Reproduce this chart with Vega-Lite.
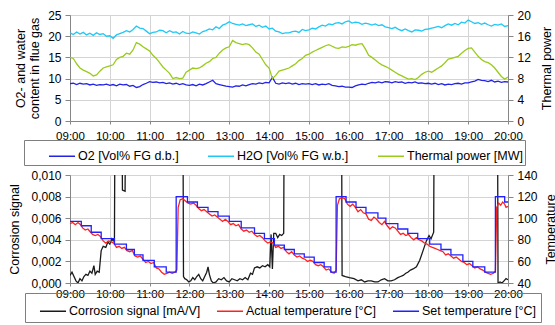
{
"$schema": "https://vega.github.io/schema/vega-lite/v6.json",
"padding": {"left": 8, "top": 8, "right": 0, "bottom": 0},
"spacing": 2,
"config": {
  "font": "Liberation Sans",
  "locale": {"number": {"decimal": ",", "thousands": ".", "grouping": [3], "currency": ["", " €"]}},
  "view": {"stroke": "#a6a6a6"},
  "axis": {"labelFontSize": 12, "labelColor": "#000", "titleFontSize": 12.5, "titleFontWeight": "normal", "titleColor": "#000", "domainColor": "#868686", "tickColor": "#868686", "gridColor": "#d4d4d4", "tickSize": 5, "labelPadding": 4, "labelOverlap": false},
  "axisX": {"labelFontSize": 11.5, "tickSize": 3, "labelPadding": 2, "labelOverlap": false, "labelFlush": false},
  "legend": {"labelFontSize": 12.5, "labelColor": "#000", "symbolType": "stroke", "symbolStrokeWidth": 1.5, "symbolSize": 680, "strokeColor": "#7f7f7f", "labelLimit": 400}
},
"datasets": {
"o2": [{"t":540,"v":8.8},{"t":545,"v":8.9},{"t":550,"v":8.6},{"t":555,"v":8.9},{"t":560,"v":8.7},{"t":565,"v":8.8},{"t":570,"v":8.5},{"t":575,"v":8.7},{"t":580,"v":8.4},{"t":585,"v":8.6},{"t":590,"v":8.5},{"t":595,"v":8.7},
{"t":600,"v":8.4},{"t":605,"v":8.6},{"t":610,"v":8.3},{"t":615,"v":8.7},{"t":620,"v":8.5},{"t":625,"v":8.6},{"t":630,"v":8.2},{"t":635,"v":8.4},{"t":640,"v":7.9},{"t":645,"v":8.1},{"t":650,"v":8.6},{"t":655,"v":8.9},
{"t":660,"v":9.3},{"t":665,"v":9.1},{"t":670,"v":9.2},{"t":675,"v":9.0},{"t":680,"v":9.1},{"t":685,"v":8.8},{"t":690,"v":9.0},{"t":695,"v":8.7},{"t":700,"v":8.9},{"t":705,"v":8.6},{"t":710,"v":8.8},{"t":715,"v":8.5},
{"t":720,"v":8.4},{"t":725,"v":8.6},{"t":730,"v":8.3},{"t":735,"v":8.7},{"t":740,"v":8.5},{"t":745,"v":8.8},{"t":750,"v":9.2},{"t":755,"v":9.6},{"t":760,"v":8.8},{"t":765,"v":8.6},{"t":770,"v":8.4},{"t":775,"v":8.2},
{"t":780,"v":8.1},{"t":785,"v":8.0},{"t":790,"v":8.3},{"t":795,"v":8.2},{"t":800,"v":8.5},{"t":805,"v":8.3},{"t":810,"v":8.6},{"t":815,"v":8.8},{"t":820,"v":8.7},{"t":825,"v":9.0},{"t":830,"v":8.8},{"t":835,"v":9.1},
{"t":840,"v":9.0},{"t":845,"v":10.3},{"t":850,"v":8.9},{"t":855,"v":8.7},{"t":860,"v":9.0},{"t":865,"v":8.8},{"t":870,"v":9.0},{"t":875,"v":8.7},{"t":880,"v":8.9},{"t":885,"v":8.6},{"t":890,"v":8.8},{"t":895,"v":8.7},
{"t":900,"v":8.8},{"t":905,"v":8.6},{"t":910,"v":8.8},{"t":915,"v":8.5},{"t":920,"v":8.7},{"t":925,"v":8.6},{"t":930,"v":8.8},{"t":935,"v":8.4},{"t":940,"v":8.3},{"t":945,"v":8.1},{"t":950,"v":8.2},{"t":955,"v":8.0},
{"t":960,"v":8.0},{"t":965,"v":7.9},{"t":970,"v":8.3},{"t":975,"v":8.5},{"t":980,"v":8.7},{"t":985,"v":8.6},{"t":990,"v":8.9},{"t":995,"v":9.1},{"t":1000,"v":9.0},{"t":1005,"v":9.2},{"t":1010,"v":9.0},{"t":1015,"v":9.3},
{"t":1020,"v":9.2},{"t":1025,"v":9.0},{"t":1030,"v":9.3},{"t":1035,"v":9.1},{"t":1040,"v":9.2},{"t":1045,"v":8.9},{"t":1050,"v":9.1},{"t":1055,"v":9.0},{"t":1060,"v":9.2},{"t":1065,"v":8.9},{"t":1070,"v":9.0},{"t":1075,"v":8.8},
{"t":1080,"v":8.9},{"t":1085,"v":8.7},{"t":1090,"v":8.9},{"t":1095,"v":8.6},{"t":1100,"v":8.8},{"t":1105,"v":8.5},{"t":1110,"v":8.7},{"t":1115,"v":8.6},{"t":1120,"v":8.8},{"t":1125,"v":8.9},{"t":1130,"v":8.7},{"t":1135,"v":9.0},
{"t":1140,"v":9.0},{"t":1145,"v":9.2},{"t":1150,"v":9.4},{"t":1155,"v":9.8},{"t":1160,"v":9.6},{"t":1165,"v":9.5},{"t":1170,"v":9.3},{"t":1175,"v":9.6},{"t":1180,"v":9.2},{"t":1185,"v":9.4},{"t":1190,"v":9.1},{"t":1195,"v":9.3},
{"t":1200,"v":9.2}],
"h2o": [{"t":540,"v":20.8},{"t":545,"v":20.4},{"t":550,"v":21.0},{"t":555,"v":20.5},{"t":560,"v":20.9},{"t":565,"v":20.3},{"t":570,"v":20.7},{"t":575,"v":20.2},{"t":580,"v":20.8},{"t":585,"v":20.4},{"t":590,"v":20.6},{"t":595,"v":20.0},
{"t":600,"v":20.1},{"t":605,"v":19.5},{"t":610,"v":20.3},{"t":615,"v":20.6},{"t":620,"v":20.9},{"t":625,"v":21.3},{"t":630,"v":21.0},{"t":635,"v":21.6},{"t":640,"v":22.4},{"t":645,"v":21.9},{"t":650,"v":21.8},{"t":655,"v":21.2},
{"t":660,"v":20.6},{"t":665,"v":20.9},{"t":670,"v":21.0},{"t":675,"v":21.4},{"t":680,"v":21.3},{"t":685,"v":20.8},{"t":690,"v":21.3},{"t":695,"v":20.9},{"t":700,"v":21.0},{"t":705,"v":20.5},{"t":710,"v":21.1},{"t":715,"v":20.7},
{"t":720,"v":20.6},{"t":725,"v":21.0},{"t":730,"v":20.8},{"t":735,"v":20.5},{"t":740,"v":21.1},{"t":745,"v":21.3},{"t":750,"v":21.7},{"t":755,"v":21.5},{"t":760,"v":22.2},{"t":765,"v":21.8},{"t":770,"v":22.6},{"t":775,"v":22.9},
{"t":780,"v":23.4},{"t":785,"v":23.0},{"t":790,"v":22.8},{"t":795,"v":22.6},{"t":800,"v":22.9},{"t":805,"v":22.5},{"t":810,"v":22.7},{"t":815,"v":22.9},{"t":820,"v":22.3},{"t":825,"v":22.6},{"t":830,"v":22.1},{"t":835,"v":22.4},
{"t":840,"v":21.7},{"t":845,"v":21.9},{"t":850,"v":21.2},{"t":855,"v":21.0},{"t":860,"v":20.6},{"t":865,"v":20.8},{"t":870,"v":20.8},{"t":875,"v":21.1},{"t":880,"v":21.2},{"t":885,"v":20.9},{"t":890,"v":21.6},{"t":895,"v":21.3},
{"t":900,"v":21.5},{"t":905,"v":21.9},{"t":910,"v":21.7},{"t":915,"v":22.2},{"t":920,"v":22.6},{"t":925,"v":22.4},{"t":930,"v":22.9},{"t":935,"v":22.7},{"t":940,"v":23.1},{"t":945,"v":23.2},{"t":950,"v":22.9},{"t":955,"v":23.4},
{"t":960,"v":23.6},{"t":965,"v":23.1},{"t":970,"v":23.3},{"t":975,"v":23.2},{"t":980,"v":22.8},{"t":985,"v":23.1},{"t":990,"v":22.9},{"t":995,"v":22.6},{"t":1000,"v":22.9},{"t":1005,"v":22.5},{"t":1010,"v":22.7},{"t":1015,"v":22.2},
{"t":1020,"v":22.0},{"t":1025,"v":21.8},{"t":1030,"v":22.1},{"t":1035,"v":21.6},{"t":1040,"v":21.3},{"t":1045,"v":21.7},{"t":1050,"v":21.3},{"t":1055,"v":21.0},{"t":1060,"v":21.5},{"t":1065,"v":21.4},{"t":1070,"v":21.2},{"t":1075,"v":21.6},
{"t":1080,"v":21.7},{"t":1085,"v":21.9},{"t":1090,"v":22.1},{"t":1095,"v":22.3},{"t":1100,"v":22.0},{"t":1105,"v":22.5},{"t":1110,"v":22.9},{"t":1115,"v":22.6},{"t":1120,"v":23.0},{"t":1125,"v":22.7},{"t":1130,"v":23.3},{"t":1135,"v":23.1},
{"t":1140,"v":23.8},{"t":1145,"v":23.4},{"t":1150,"v":23.0},{"t":1155,"v":23.2},{"t":1160,"v":22.8},{"t":1165,"v":23.1},{"t":1170,"v":22.7},{"t":1175,"v":22.4},{"t":1180,"v":22.8},{"t":1185,"v":22.6},{"t":1190,"v":22.9},{"t":1195,"v":22.3},
{"t":1200,"v":22.5}],
"tp": [{"t":540,"v":12.0},{"t":545,"v":11.8},{"t":550,"v":10.8},{"t":555,"v":10.0},{"t":560,"v":9.6},{"t":565,"v":9.3},{"t":570,"v":9.0},{"t":575,"v":8.5},{"t":580,"v":8.7},{"t":585,"v":9.4},{"t":590,"v":10.0},{"t":595,"v":10.2},
{"t":600,"v":10.4},{"t":605,"v":10.6},{"t":610,"v":11.6},{"t":615,"v":12.0},{"t":620,"v":12.2},{"t":625,"v":12.8},{"t":630,"v":12.6},{"t":635,"v":13.4},{"t":640,"v":14.8},{"t":645,"v":14.5},{"t":650,"v":14.0},{"t":655,"v":13.6},
{"t":660,"v":13.2},{"t":665,"v":12.4},{"t":670,"v":11.8},{"t":675,"v":11.0},{"t":680,"v":10.2},{"t":685,"v":9.6},{"t":690,"v":9.0},{"t":695,"v":8.0},{"t":700,"v":8.2},{"t":705,"v":8.0},{"t":710,"v":8.1},{"t":715,"v":9.2},
{"t":720,"v":9.6},{"t":725,"v":10.0},{"t":730,"v":9.9},{"t":735,"v":10.0},{"t":740,"v":10.4},{"t":745,"v":10.9},{"t":750,"v":11.2},{"t":755,"v":11.8},{"t":760,"v":12.0},{"t":765,"v":12.8},{"t":770,"v":13.4},{"t":775,"v":13.8},
{"t":780,"v":14.0},{"t":785,"v":15.2},{"t":790,"v":14.8},{"t":795,"v":14.6},{"t":800,"v":14.4},{"t":805,"v":14.6},{"t":810,"v":14.4},{"t":815,"v":13.8},{"t":820,"v":13.0},{"t":825,"v":12.6},{"t":830,"v":11.6},{"t":835,"v":10.6},
{"t":840,"v":10.0},{"t":845,"v":8.0},{"t":850,"v":8.6},{"t":855,"v":9.4},{"t":860,"v":9.6},{"t":865,"v":9.8},{"t":870,"v":10.0},{"t":875,"v":10.4},{"t":880,"v":10.8},{"t":885,"v":11.4},{"t":890,"v":11.8},{"t":895,"v":12.4},
{"t":900,"v":12.6},{"t":905,"v":13.0},{"t":910,"v":13.3},{"t":915,"v":13.6},{"t":920,"v":13.9},{"t":925,"v":14.2},{"t":930,"v":14.4},{"t":935,"v":14.1},{"t":940,"v":13.8},{"t":945,"v":13.7},{"t":950,"v":14.0},{"t":955,"v":13.9},
{"t":960,"v":14.1},{"t":965,"v":14.4},{"t":970,"v":14.3},{"t":975,"v":14.5},{"t":980,"v":14.6},{"t":985,"v":13.6},{"t":990,"v":12.4},{"t":995,"v":12.0},{"t":1000,"v":11.5},{"t":1005,"v":11.0},{"t":1010,"v":10.6},{"t":1015,"v":10.3},
{"t":1020,"v":10.0},{"t":1025,"v":9.6},{"t":1030,"v":9.2},{"t":1035,"v":8.8},{"t":1040,"v":8.5},{"t":1045,"v":8.2},{"t":1050,"v":7.9},{"t":1055,"v":8.0},{"t":1060,"v":7.8},{"t":1065,"v":8.2},{"t":1070,"v":8.8},{"t":1075,"v":9.2},
{"t":1080,"v":9.4},{"t":1085,"v":9.2},{"t":1090,"v":9.6},{"t":1095,"v":10.0},{"t":1100,"v":10.4},{"t":1105,"v":11.0},{"t":1110,"v":11.7},{"t":1115,"v":11.8},{"t":1120,"v":12.0},{"t":1125,"v":12.2},{"t":1130,"v":12.8},{"t":1135,"v":13.3},
{"t":1140,"v":13.7},{"t":1145,"v":13.8},{"t":1150,"v":13.0},{"t":1155,"v":12.2},{"t":1160,"v":11.6},{"t":1165,"v":11.2},{"t":1170,"v":11.0},{"t":1175,"v":10.6},{"t":1180,"v":10.0},{"t":1185,"v":9.2},{"t":1190,"v":8.4},{"t":1195,"v":7.9},
{"t":1200,"v":8.3}],
"cor": [{"t":540,"v":0.0007},{"t":543,"v":0.0010},{"t":546,"v":0.0006},{"t":549,"v":0.0002},{"t":552,"v":0.0000},{"t":555,"v":0.0004},{"t":558,"v":0.0002},{"t":561,"v":0.0006},{"t":564,"v":0.0008},{"t":567,"v":0.0007},{"t":570,"v":0.0011},{"t":573,"v":0.0009},{"t":576,"v":0.0016},{"t":578,"v":0.0008},{"t":581,"v":0.0011},{"t":584,"v":0.0010},{"t":587,"v":0.0030},{"t":590,"v":0.0034},{"t":594,"v":0.0033},{"t":597,"v":0.0038},{"t":600,"v":0.0036},{"t":603,"v":0.0041},{"t":605,"v":0.0039},{"t":607,"v":0.0042},{"t":608,"v":0.02},{"t":618,"v":0.02},{"t":619,"v":0.0086},{"t":623,"v":0.0085},{"t":624,"v":0.02},{"t":710,"v":0.02},{"t":711,"v":0.0006},{"t":713,"v":0.0004},{"t":716,"v":0.0003},{"t":719,"v":0.0001},{"t":722,"v":0.0002},{"t":725,"v":0.0005},{"t":728,"v":0.0003},{"t":731,"v":0.0006},{"t":734,"v":0.0008},{"t":737,"v":0.0004},{"t":740,"v":0.0002},{"t":743,"v":0.0006},{"t":746,"v":0.0010},{"t":748,"v":0.0015},{"t":750,"v":0.0008},{"t":753,"v":0.0002},{"t":756,"v":0.0000},{"t":760,"v":0.0001},{"t":764,"v":0.0004},{"t":768,"v":0.0003},{"t":772,"v":0.0005},{"t":776,"v":0.0002},{"t":780,"v":0.0001},{"t":784,"v":0.0004},{"t":788,"v":0.0003},{"t":792,"v":0.0002},{"t":796,"v":0.0004},{"t":800,"v":0.0003},{"t":804,"v":0.0005},{"t":808,"v":0.0003},{"t":812,"v":0.0009},{"t":815,"v":0.0008},{"t":818,"v":0.0014},{"t":822,"v":0.0015},{"t":826,"v":0.0014},{"t":830,"v":0.0016},{"t":834,"v":0.0015},{"t":838,"v":0.0017},{"t":841,"v":0.0015},{"t":843,"v":0.0045},{"t":845,"v":0.0013},{"t":847,"v":0.0046},{"t":850,"v":0.0046},{"t":853,"v":0.0042},{"t":856,"v":0.0045},{"t":859,"v":0.0044},{"t":862,"v":0.0046},{"t":863,"v":0.02},{"t":949,"v":0.02},{"t":950,"v":0.0007},{"t":955,"v":0.0006},{"t":961,"v":0.0005},{"t":968,"v":0.0004},{"t":974,"v":0.0002},{"t":979,"v":0.0003},{"t":984,"v":0.0001},{"t":989,"v":0.0002},{"t":994,"v":0.0002},{"t":999,"v":0.0001},{"t":1004,"v":0.0001},{"t":1009,"v":0.0003},{"t":1014,"v":0.0004},{"t":1019,"v":0.0002},{"t":1024,"v":0.0002},{"t":1029,"v":0.0003},{"t":1034,"v":0.0005},{"t":1038,"v":0.0006},{"t":1042,"v":0.0007},{"t":1046,"v":0.0009},{"t":1049,"v":0.0010},{"t":1053,"v":0.0012},{"t":1057,"v":0.0013},{"t":1062,"v":0.0015},{"t":1067,"v":0.0021},{"t":1072,"v":0.0030},{"t":1077,"v":0.0039},{"t":1081,"v":0.0044},{"t":1084,"v":0.0041},{"t":1088,"v":0.0047},{"t":1089,"v":0.02},{"t":1184,"v":0.02},{"t":1185,"v":0.0000},{"t":1188,"v":0.0001},{"t":1191,"v":0.0000},{"t":1194,"v":0.0002},{"t":1197,"v":0.0004},{"t":1200,"v":0.0003}],
"act": [{"t":540,"v":95},{"t":544,"v":96},{"t":548,"v":94},{"t":552,"v":96},{"t":556,"v":94},{"t":559,"v":91},{"t":563,"v":89},{"t":567,"v":90},{"t":571,"v":87},{"t":574,"v":85},{"t":578,"v":84},{"t":582,"v":85},{"t":586,"v":83},{"t":590,"v":79},{"t":594,"v":77},{"t":598,"v":79},{"t":602,"v":78},{"t":606,"v":77},{"t":610,"v":73},{"t":614,"v":74},{"t":618,"v":72},{"t":622,"v":73},{"t":626,"v":70},{"t":630,"v":69},{"t":634,"v":70},{"t":638,"v":65},{"t":642,"v":64},{"t":646,"v":65},{"t":650,"v":62},{"t":654,"v":59},{"t":658,"v":60},{"t":662,"v":58},{"t":666,"v":59},{"t":670,"v":54},{"t":674,"v":53},{"t":678,"v":50},{"t":682,"v":48},{"t":686,"v":49},{"t":690,"v":50},{"t":694,"v":49},{"t":698,"v":50},{"t":701,"v":52},{"t":703,"v":110},{"t":706,"v":117},{"t":710,"v":118},{"t":714,"v":116},{"t":718,"v":114},{"t":722,"v":113},{"t":726,"v":114},{"t":730,"v":112},{"t":734,"v":109},{"t":738,"v":107},{"t":742,"v":108},{"t":746,"v":106},{"t":750,"v":104},{"t":754,"v":102},{"t":758,"v":103},{"t":762,"v":101},{"t":766,"v":99},{"t":770,"v":97},{"t":774,"v":99},{"t":778,"v":97},{"t":782,"v":94},{"t":786,"v":95},{"t":790,"v":93},{"t":794,"v":94},{"t":798,"v":90},{"t":802,"v":88},{"t":806,"v":89},{"t":810,"v":87},{"t":814,"v":88},{"t":818,"v":85},{"t":822,"v":83},{"t":826,"v":84},{"t":830,"v":82},{"t":834,"v":79},{"t":838,"v":77},{"t":842,"v":78},{"t":846,"v":77},{"t":850,"v":73},{"t":854,"v":74},{"t":858,"v":72},{"t":862,"v":73},{"t":866,"v":69},{"t":870,"v":67},{"t":874,"v":69},{"t":878,"v":66},{"t":882,"v":64},{"t":886,"v":65},{"t":890,"v":63},{"t":894,"v":62},{"t":898,"v":60},{"t":902,"v":61},{"t":906,"v":60},{"t":910,"v":57},{"t":914,"v":56},{"t":918,"v":57},{"t":922,"v":55},{"t":926,"v":52},{"t":930,"v":53},{"t":934,"v":50},{"t":938,"v":49},{"t":941,"v":52},{"t":943,"v":112},{"t":946,"v":118},{"t":950,"v":119},{"t":954,"v":118},{"t":958,"v":113},{"t":962,"v":111},{"t":966,"v":113},{"t":970,"v":110},{"t":974,"v":106},{"t":978,"v":108},{"t":982,"v":105},{"t":986,"v":104},{"t":990,"v":99},{"t":994,"v":98},{"t":998,"v":101},{"t":1002,"v":99},{"t":1006,"v":96},{"t":1010,"v":94},{"t":1014,"v":97},{"t":1018,"v":93},{"t":1022,"v":90},{"t":1026,"v":92},{"t":1030,"v":91},{"t":1034,"v":88},{"t":1038,"v":85},{"t":1042,"v":86},{"t":1046,"v":84},{"t":1050,"v":85},{"t":1054,"v":82},{"t":1058,"v":80},{"t":1062,"v":82},{"t":1066,"v":80},{"t":1070,"v":79},{"t":1074,"v":77},{"t":1078,"v":76},{"t":1082,"v":74},{"t":1086,"v":73},{"t":1090,"v":72},{"t":1094,"v":71},{"t":1098,"v":70},{"t":1102,"v":69},{"t":1106,"v":66},{"t":1110,"v":67},{"t":1114,"v":65},{"t":1118,"v":63},{"t":1122,"v":64},{"t":1126,"v":62},{"t":1130,"v":60},{"t":1134,"v":59},{"t":1138,"v":57},{"t":1142,"v":58},{"t":1146,"v":56},{"t":1150,"v":54},{"t":1154,"v":55},{"t":1158,"v":53},{"t":1162,"v":52},{"t":1166,"v":50},{"t":1170,"v":49},{"t":1174,"v":48},{"t":1178,"v":49},{"t":1181,"v":51},{"t":1183,"v":110},{"t":1186,"v":114},{"t":1189,"v":112},{"t":1192,"v":115},{"t":1195,"v":113},{"t":1197,"v":110},{"t":1200,"v":111}],
"set": [{"t":540,"v":97},{"t":557,"v":93},{"t":572,"v":87},{"t":587,"v":81},{"t":607,"v":76},{"t":625,"v":71},{"t":637,"v":66},{"t":650,"v":61},{"t":667,"v":55},{"t":685,"v":50},{"t":700,"v":120},{"t":717,"v":115},{"t":732,"v":110},{"t":748,"v":106},{"t":763,"v":102},{"t":780,"v":97},{"t":798,"v":91},{"t":818,"v":86},{"t":833,"v":81},{"t":848,"v":75},{"t":863,"v":71},{"t":878,"v":67},{"t":893,"v":64},{"t":908,"v":59},{"t":923,"v":55},{"t":933,"v":50},{"t":941,"v":120},{"t":956,"v":115},{"t":971,"v":110},{"t":986,"v":105},{"t":1004,"v":100},{"t":1016,"v":95},{"t":1034,"v":90},{"t":1049,"v":86},{"t":1064,"v":81},{"t":1082,"v":76},{"t":1099,"v":71},{"t":1114,"v":66},{"t":1132,"v":60},{"t":1147,"v":55},{"t":1165,"v":50},{"t":1181,"v":120},{"t":1195,"v":115},{"t":1200,"v":115}]
},
"vconcat": [
{
  "width": 438, "height": 106,
  "layer": [
    {"layer": [
      {"data": {"name": "o2"}, "mark": {"type": "line", "strokeWidth": 1.3},
       "encoding": {
         "x": {"field": "t", "type": "quantitative", "scale": {"domain": [540, 1200], "nice": false, "zero": false}, "axis": {"values": [540,600,660,720,780,840,900,960,1020,1080,1140,1200], "labelExpr": "(datum.value < 600 ? '0' : '') + floor(datum.value / 60) + ':00'", "title": null, "grid": true, "labelPadding": 6}},
         "y": {"field": "v", "type": "quantitative", "scale": {"domain": [0, 25], "nice": false}, "axis": {"values": [0,5,10,15,20,25], "title": ["O2- and water", "content in flue gas"], "grid": true, "titlePadding": 6}},
         "color": {"datum": "O2 [Vol% FG d.b.]", "type": "nominal", "scale": {"domain": ["O2 [Vol% FG d.b.]", "H2O [Vol% FG w.b.]", "Thermal power [MW]"], "range": ["#2323e6", "#1fc8f7", "#9acb1c"]},
           "legend": {"title": null, "orient": "none", "legendX": -46, "legendY": 125, "direction": "horizontal", "columns": 3, "columnPadding": 6, "padding": 2, "symbolOffset": 22, "labelOffset": 2, "labelExpr": "datum.value == 'Thermal power [MW]' ? datum.label + '\u00a0\u00a0\u00a0\u00a0\u00a0' : datum.label"}}
       }},
      {"data": {"name": "h2o"}, "mark": {"type": "line", "strokeWidth": 1.3},
       "encoding": {
         "x": {"field": "t", "type": "quantitative", "scale": {"domain": [540, 1200], "nice": false, "zero": false}, "axis": {"values": [540,600,660,720,780,840,900,960,1020,1080,1140,1200], "labelExpr": "(datum.value < 600 ? '0' : '') + floor(datum.value / 60) + ':00'", "title": null, "grid": true, "labelPadding": 6}},
         "y": {"field": "v", "type": "quantitative", "scale": {"domain": [0, 25], "nice": false}, "axis": {"values": [0,5,10,15,20,25], "title": ["O2- and water", "content in flue gas"], "grid": true, "titlePadding": 6}},
         "color": {"datum": "H2O [Vol% FG w.b.]", "type": "nominal"}
       }}
    ]},
    {"data": {"name": "tp"}, "mark": {"type": "line", "strokeWidth": 1.3},
     "encoding": {
       "x": {"field": "t", "type": "quantitative", "scale": {"domain": [540, 1200], "nice": false, "zero": false}, "axis": {"values": [540,600,660,720,780,840,900,960,1020,1080,1140,1200], "labelExpr": "(datum.value < 600 ? '0' : '') + floor(datum.value / 60) + ':00'", "title": null, "grid": true, "labelPadding": 6}},
       "y": {"field": "v", "type": "quantitative", "scale": {"domain": [0, 20], "nice": false}, "axis": {"orient": "right", "values": [0,4,8,12,16,20], "title": "Thermal power", "titleAngle": 270, "titleBaseline": "top", "grid": false, "titlePadding": 10}},
       "color": {"datum": "Thermal power [MW]", "type": "nominal"}
     }}
  ],
  "resolve": {"scale": {"y": "independent"}}
},
{
  "width": 438, "height": 108,
  "layer": [
    {"data": {"name": "cor"}, "mark": {"type": "line", "strokeWidth": 1.3, "clip": true},
     "encoding": {
       "x": {"field": "t", "type": "quantitative", "scale": {"domain": [540, 1200], "nice": false, "zero": false}, "axis": {"values": [540,600,660,720,780,840,900,960,1020,1080,1140,1200], "labelExpr": "(datum.value < 600 ? '0' : '') + floor(datum.value / 60) + ':00'", "title": null, "grid": true}},
       "y": {"field": "v", "type": "quantitative", "scale": {"domain": [0, 0.01], "nice": false}, "axis": {"values": [0,0.002,0.004,0.006,0.008,0.01], "format": ".3f", "title": "Corrosion signal", "grid": true, "titlePadding": 9}},
       "color": {"datum": "Corrosion signal [mA/V]", "type": "nominal", "scale": {"domain": ["Corrosion signal [mA/V]", "Actual temperature [°C]", "Set temperature [°C]"], "range": ["#1a1a1a", "#ff2121", "#2121ff"]},
         "legend": {"title": null, "orient": "none", "legendX": -45, "legendY": 118, "direction": "horizontal", "columns": 3, "columnPadding": 5, "padding": 4, "symbolOffset": 10, "labelOffset": 2, "labelExpr": "datum.value == 'Set temperature [°C]' ? datum.label + '\u00a0\u00a0' : datum.label"}}
     }},
    {"layer": [
      {"data": {"name": "act"}, "mark": {"type": "line", "strokeWidth": 1.3},
       "encoding": {
         "x": {"field": "t", "type": "quantitative", "scale": {"domain": [540, 1200], "nice": false, "zero": false}, "axis": {"values": [540,600,660,720,780,840,900,960,1020,1080,1140,1200], "labelExpr": "(datum.value < 600 ? '0' : '') + floor(datum.value / 60) + ':00'", "title": null, "grid": true}},
         "y": {"field": "v", "type": "quantitative", "scale": {"domain": [40, 140], "nice": false, "zero": false}, "axis": {"orient": "right", "values": [40,60,80,100,120,140], "title": "Temperature", "titleAngle": 270, "titleBaseline": "top", "grid": false, "titlePadding": 7}},
         "color": {"datum": "Actual temperature [°C]", "type": "nominal"}
       }},
      {"data": {"name": "set"}, "mark": {"type": "line", "strokeWidth": 1.3, "interpolate": "step-after"},
       "encoding": {
         "x": {"field": "t", "type": "quantitative", "scale": {"domain": [540, 1200], "nice": false, "zero": false}, "axis": {"values": [540,600,660,720,780,840,900,960,1020,1080,1140,1200], "labelExpr": "(datum.value < 600 ? '0' : '') + floor(datum.value / 60) + ':00'", "title": null, "grid": true}},
         "y": {"field": "v", "type": "quantitative", "scale": {"domain": [40, 140], "nice": false, "zero": false}, "axis": {"orient": "right", "values": [40,60,80,100,120,140], "title": "Temperature", "titleAngle": 270, "titleBaseline": "top", "grid": false, "titlePadding": 7}},
         "color": {"datum": "Set temperature [°C]", "type": "nominal"}
       }}
    ]}
  ],
  "resolve": {"scale": {"y": "independent"}}
}
],
"resolve": {"scale": {"color": "independent"}}
}
